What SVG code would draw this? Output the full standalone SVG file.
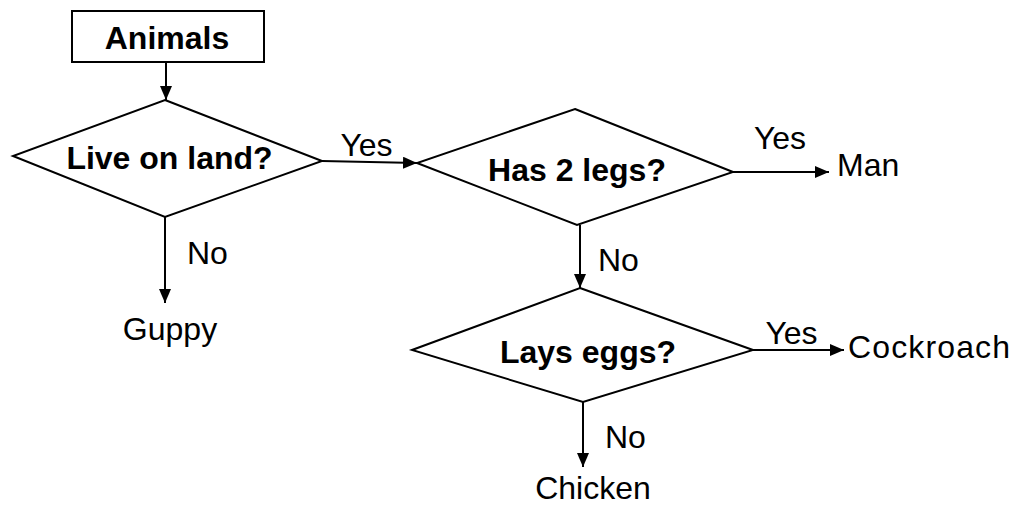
<svg xmlns="http://www.w3.org/2000/svg" width="1016" height="506" viewBox="0 0 1016 506">
<style>
.shape{fill:#fff;stroke:#000;stroke-width:2}
.conn{stroke:#000;stroke-width:2;fill:none;marker-end:url(#ah)}
.b{font-family:"Liberation Sans",Arial,sans-serif;font-weight:bold;font-size:32px;fill:#000;text-anchor:middle}
.r{font-family:"Liberation Sans",Arial,sans-serif;font-size:32px;fill:#000}
.m{text-anchor:middle}
</style>
<defs>
<marker id="ah" markerUnits="userSpaceOnUse" markerWidth="15" markerHeight="12" refX="14" refY="6" orient="auto">
<path d="M0,0 L14,6 L0,12 z" fill="#000"/>
</marker>
</defs>
<rect width="1016" height="506" fill="#fff"/>
<g id="connectors">
<line class="conn" x1="166" y1="62" x2="166" y2="100"/>
<line class="conn" x1="322" y1="161" x2="417" y2="163"/>
<line class="conn" x1="165" y1="217" x2="165" y2="303"/>
<line class="conn" x1="733" y1="172" x2="829" y2="172"/>
<line class="conn" x1="580" y1="225" x2="580" y2="288"/>
<line class="conn" x1="753" y1="350" x2="844" y2="350"/>
<line class="conn" x1="583" y1="402" x2="583" y2="467"/>
</g>
<g id="edge-labels">
<text class="r m" x="366.5" y="156">Yes</text>
<text class="r m" x="780" y="149">Yes</text>
<text class="r m" x="791.5" y="344">Yes</text>
<text class="r" x="187" y="264">No</text>
<text class="r" x="598" y="271">No</text>
<text class="r" x="605" y="448">No</text>
</g>
<g id="animals">
<rect class="shape" x="72" y="11" width="192" height="51"/>
<text class="b" x="167" y="49">Animals</text>
</g>
<g id="live-on-land">
<polygon class="shape" points="165,100 322,161 165,217 13,156"/>
<text class="b" x="169.5" y="169">Live on land?</text>
</g>
<g id="has-2-legs">
<polygon class="shape" points="575,109 733,172 577,225 417,163"/>
<text class="b" x="577" y="181">Has 2 legs?</text>
</g>
<g id="lays-eggs">
<polygon class="shape" points="580,288 753,350 583,402 412,350"/>
<text class="b" x="588" y="363">Lays eggs?</text>
</g>
<g id="guppy"><text class="r m" x="170" y="340">Guppy</text></g>
<g id="man"><text class="r" x="837" y="176">Man</text></g>
<g id="cockroach"><text class="r" x="848" y="358" textLength="162">Cockroach</text></g>
<g id="chicken"><text class="r m" x="593" y="499">Chicken</text></g>
</svg>
